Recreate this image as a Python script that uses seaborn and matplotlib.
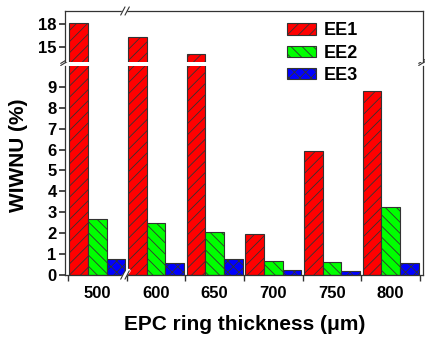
import matplotlib
matplotlib.use('Agg')
import matplotlib.pyplot as plt
from matplotlib.patches import Patch
import pandas as pd
import seaborn as sns

sns.set_theme(style='white')
plt.rcParams['font.family'] = ['Liberation Sans', 'DejaVu Sans']
plt.rcParams['font.weight'] = 'bold'
plt.rcParams['text.color'] = 'black'
plt.rcParams['xtick.color'] = 'black'
plt.rcParams['ytick.color'] = 'black'
plt.rcParams['hatch.color'] = '#333333'
plt.rcParams['hatch.linewidth'] = 0.6

thickness = ['500', '600', '650', '700', '750', '800']
ee1 = [18.1, 16.2, 14.1, 1.96, 5.95, 8.8]
ee2 = [2.68, 2.47, 2.07, 0.67, 0.64, 3.24]
ee3 = [0.75, 0.56, 0.75, 0.22, 0.20, 0.59]
series = ['EE1', 'EE2', 'EE3']
colors = ['#FF0000', '#00FF00', '#0000FF']
hatches = ['///', '\\\\\\', 'xxx']

df = pd.DataFrame({
    'thickness': thickness * 3,
    'value': ee1 + ee2 + ee3,
    'series': [s for s in series for _ in thickness],
})

fig = plt.figure(figsize=(4.25, 3.38), dpi=100)
left, right = 65 / 425, 423 / 425
ax_lo = fig.add_axes([left, 1 - 275 / 338, right - left, (275 - 65.5) / 338])
ax_hi = fig.add_axes([left, 1 - 62 / 338, right - left, (62 - 11) / 338])

for ax in (ax_lo, ax_hi):
    sns.barplot(data=df, x='thickness', y='value', hue='series', order=thickness,
                hue_order=series, palette=colors, saturation=1, width=0.95, gap=0,
                edgecolor='#333333', linewidth=0.8, legend=False, ax=ax)
    for cont, h in zip(ax.containers, hatches):
        for bar in cont:
            bar.set_hatch(h)
    ax.set_xlim(-0.55, 5.55)
    ax.set_xlabel('')
    ax.set_ylabel('')
    for sp in ax.spines.values():
        sp.set_color('#333333')
        sp.set_linewidth(0.9)

ax_lo.set_ylim(0, 10.02)
ax_lo.set_yticks(range(0, 10))
ax_lo.spines['top'].set_visible(False)
ax_lo.set_xticks(range(6))
ax_lo.set_xticklabels(thickness)
ax_lo.tick_params(axis='x', length=0, pad=8, labelsize=12)
ax_lo.set_xticks([i - 0.5 for i in range(7)], minor=True)
ax_lo.tick_params(axis='x', which='minor', bottom=True, length=4, direction='out', color='#333333')
ax_lo.tick_params(axis='y', left=True, length=4, direction='out', labelsize=12, pad=2, color='#333333')

ax_hi.set_ylim(13.0, 19.65)
ax_hi.set_yticks([15, 18])
ax_hi.spines['bottom'].set_visible(False)
ax_hi.set_xticks([])
ax_hi.tick_params(axis='y', left=True, length=4, direction='out', labelsize=12, pad=2, color='#333333')


def break_mark(ax, x, y, dx, dy):
    kw = dict(transform=ax.transAxes, clip_on=False, color='#333333', lw=0.8)
    ax.plot([x - dx - 0.004, x + dx + 0.004], [y - dy, y + dy], color='white',
            lw=3, transform=ax.transAxes, clip_on=False, zorder=5)
    for off in (-0.006, 0.006):
        ax.plot([x + off - dx, x + off + dx], [y - dy, y + dy], zorder=6, **kw)


# x-axis breaks (bottom and top spine)
bx = (125 - 65) / (423 - 65)
break_mark(ax_lo, bx, 0.0, 0.006, 0.02)
break_mark(ax_hi, bx, 1.0, 0.006, 0.08)


# y-axis break marks at the panel joint
def ybreak(ax, x):
    kw = dict(transform=ax.transAxes, clip_on=False, color='#333333', lw=0.8, zorder=6)
    ax.plot([x - 0.012, x + 0.012], [1.0, 1.025], **kw)
    ax.plot([x - 0.012, x + 0.012], [1.01, 1.035], **kw)


ybreak(ax_lo, 0.0)
ybreak(ax_lo, 1.0)

handles = [Patch(facecolor=c, edgecolor='#333333', hatch=h, linewidth=0.8, label=s)
           for c, h, s in zip(colors, hatches, series)]
fig.legend(handles=handles, loc='upper left', bbox_to_anchor=(280 / 425, 1 - 15 / 338),
           frameon=False, fontsize=13, handlelength=1.6, handleheight=0.6,
           handletextpad=0.4, labelspacing=0.3, borderaxespad=0)

fig.text(19 / 425, 1 - 155 / 338, 'WIWNU (%)', rotation=90, ha='center', va='center',
         fontsize=15, fontweight='bold')
fig.text(245 / 425, 1 - 325 / 338, 'EPC ring thickness (\u03bcm)', ha='center', va='center',
         fontsize=15, fontweight='bold')

fig.savefig('out.png', dpi=100)
